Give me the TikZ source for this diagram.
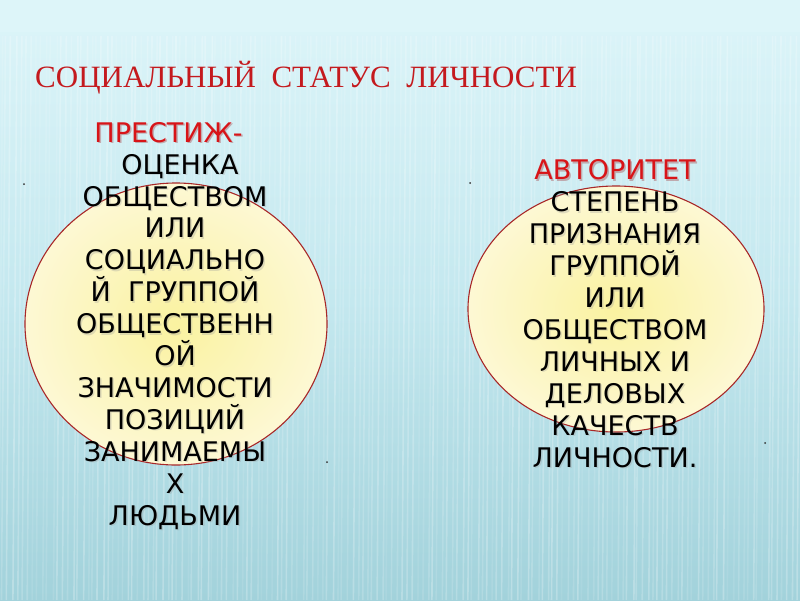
\documentclass[tikz,border=0pt]{standalone}
\usepackage{fontspec}
\setmainfont{Liberation Serif}
\newfontfamily\dvs{DejaVu Sans}
\usetikzlibrary{shapes.geometric}
\definecolor{bgtop}{HTML}{DDF5F9}
\definecolor{bgmid}{HTML}{C4E8EF}
\definecolor{bgbot}{HTML}{A2D2DB}
\definecolor{titlered}{HTML}{C41A1E}
\definecolor{headred}{HTML}{D81418}
\definecolor{rimred}{HTML}{A82828}
\definecolor{yin}{HTML}{FAF2A0}
\definecolor{yout}{HTML}{FDF8D4}
\tikzset{
  blob/.style={ellipse, draw=rimred, line width=1.1pt, inner color=yin, outer color=yout},
  body/.style={font=\dvs\fontsize{27}{31.9}\selectfont, align=center, inner sep=0pt, anchor=base, text=black},
  shadowtext/.style={body, text=black!40, opacity=0.3},
  dotmark/.style={fill=black!80, circle, inner sep=0pt, minimum size=2pt}
}
\begin{document}
\begin{tikzpicture}[x=1pt,y=-1pt]
\useasboundingbox (0,0) rectangle (800,600);
% background
\shade[top color=bgtop, bottom color=bgbot, middle color=bgmid] (0,0) rectangle (800,600);
\fill[bgtop] (0,0) rectangle (800,32);
\pgfmathsetseed{7}
\foreach \i in {0,...,160}{
  \pgfmathsetmacro{\xx}{\i*5+rnd*3}
  \pgfmathsetmacro{\op}{0.08+0.18*rnd}
  \draw[white, line width=1.6pt, opacity=\op] (\xx,36) -- (\xx-4,600);
}
% title
\node[font=\fontsize{31}{36}\selectfont, text=titlered, anchor=base west, inner sep=0pt] (title) at (35,87) {СОЦИАЛЬНЫЙ\ \ СТАТУС\ \ ЛИЧНОСТИ};
% ellipses
\node[blob, minimum width=302pt, minimum height=282pt] (left) at (176,324) {};
\node[blob, minimum width=296pt, minimum height=246pt] (right) at (616,309) {};
% left text
\node[shadowtext] (lefts) at (176.5,526.5) {\textcolor{headred!70!black}{ПРЕСТИЖ-}\hspace*{13pt}\\ \hspace*{10pt}ОЦЕНКА\\ ОБЩЕСТВОМ\\ ИЛИ\\ СОЦИАЛЬНО\\ Й\ \ ГРУППОЙ\\ ОБЩЕСТВЕНН\\ ОЙ\\ ЗНАЧИМОСТИ\\ ПОЗИЦИЙ\\ ЗАНИМАЕМЫ\\ Х\\ ЛЮДЬМИ};
\node[body] (lefttext) at (175,525) {\textcolor{headred}{ПРЕСТИЖ-}\hspace*{13pt}\\ \hspace*{10pt}ОЦЕНКА\\ ОБЩЕСТВОМ\\ ИЛИ\\ СОЦИАЛЬНО\\ Й\ \ ГРУППОЙ\\ ОБЩЕСТВЕНН\\ ОЙ\\ ЗНАЧИМОСТИ\\ ПОЗИЦИЙ\\ ЗАНИМАЕМЫ\\ Х\\ ЛЮДЬМИ};
% right text
\node[shadowtext] (rights) at (616.5,468.5) {\textcolor{headred!70!black}{АВТОРИТЕТ}\\ СТЕПЕНЬ\\ ПРИЗНАНИЯ\\ ГРУППОЙ\\ ИЛИ\\ ОБЩЕСТВОМ\\ ЛИЧНЫХ И\\ ДЕЛОВЫХ\\ КАЧЕСТВ\\ ЛИЧНОСТИ.};
\node[body] (righttext) at (615,467) {\textcolor{headred}{АВТОРИТЕТ}\\ СТЕПЕНЬ\\ ПРИЗНАНИЯ\\ ГРУППОЙ\\ ИЛИ\\ ОБЩЕСТВОМ\\ ЛИЧНЫХ И\\ ДЕЛОВЫХ\\ КАЧЕСТВ\\ ЛИЧНОСТИ.};
% dots
\node[dotmark] (d1) at (24,184) {};
\node[dotmark] (d2) at (470,183) {};
\node[dotmark] (d3) at (327,462) {};
\node[dotmark] (d4) at (765,443) {};
\end{tikzpicture}
\end{document}
